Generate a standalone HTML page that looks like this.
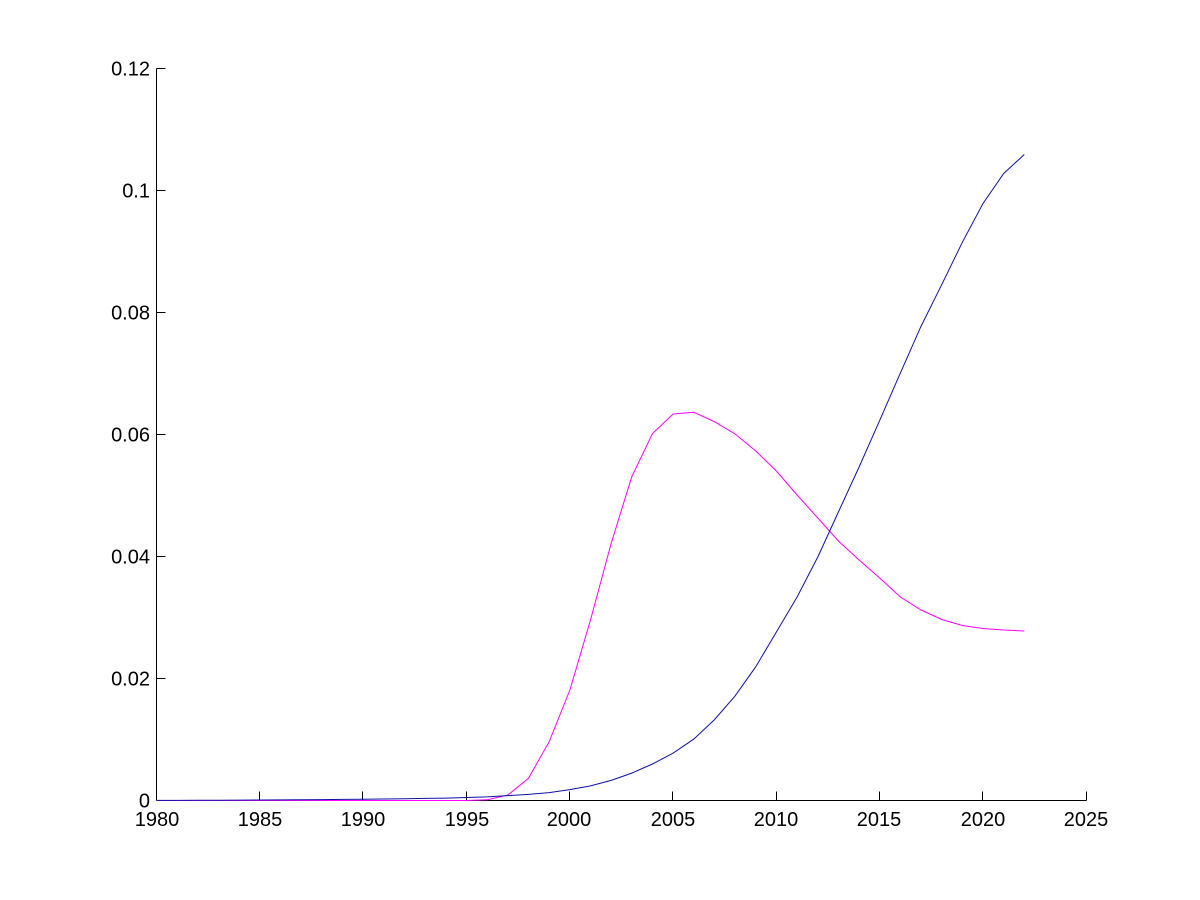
<!DOCTYPE html>
<html>
<head>
<meta charset="utf-8">
<style>
  html, body { margin: 0; padding: 0; background: #ffffff; }
  svg { display: block; }
  text { font-family: "Liberation Sans", Arial, sans-serif; font-size: 20px; fill: #000; }
</style>
</head>
<body>
<svg width="1200" height="900" viewBox="0 0 1200 900" xmlns="http://www.w3.org/2000/svg">
  <rect x="0" y="0" width="1200" height="900" fill="#ffffff"/>

  <!-- axes -->
  <g stroke="#000" stroke-width="1" fill="none" shape-rendering="crispEdges">
    <line x1="156.5" y1="68.5" x2="156.5" y2="800.5"/>
    <line x1="156.5" y1="800.5" x2="1086.5" y2="800.5"/>
    <!-- y ticks -->
    <line x1="156.5" y1="68.5" x2="165.5" y2="68.5"/>
    <line x1="156.5" y1="190.5" x2="165.5" y2="190.5"/>
    <line x1="156.5" y1="312.5" x2="165.5" y2="312.5"/>
    <line x1="156.5" y1="434.5" x2="165.5" y2="434.5"/>
    <line x1="156.5" y1="556.5" x2="165.5" y2="556.5"/>
    <line x1="156.5" y1="678.5" x2="165.5" y2="678.5"/>
    <!-- x ticks -->
    <line x1="259.5" y1="800.5" x2="259.5" y2="791.5"/>
    <line x1="362.5" y1="800.5" x2="362.5" y2="791.5"/>
    <line x1="466.5" y1="800.5" x2="466.5" y2="791.5"/>
    <line x1="569.5" y1="800.5" x2="569.5" y2="791.5"/>
    <line x1="672.5" y1="800.5" x2="672.5" y2="791.5"/>
    <line x1="776.5" y1="800.5" x2="776.5" y2="791.5"/>
    <line x1="879.5" y1="800.5" x2="879.5" y2="791.5"/>
    <line x1="982.5" y1="800.5" x2="982.5" y2="791.5"/>
    <line x1="1086.5" y1="800.5" x2="1086.5" y2="791.5"/>
  </g>

  <!-- y tick labels -->
  <g text-anchor="end">
    <text x="150" y="75.5">0.12</text>
    <text x="150" y="197.5">0.1</text>
    <text x="150" y="319.5">0.08</text>
    <text x="150" y="441.5">0.06</text>
    <text x="150" y="563.5">0.04</text>
    <text x="150" y="685.5">0.02</text>
    <text x="150" y="807.5">0</text>
  </g>

  <!-- x tick labels -->
  <g text-anchor="middle">
    <text x="157" y="826">1980</text>
    <text x="260" y="826">1985</text>
    <text x="363" y="826">1990</text>
    <text x="467" y="826">1995</text>
    <text x="569" y="826">2000</text>
    <text x="673" y="826">2005</text>
    <text x="776" y="826">2010</text>
    <text x="879" y="826">2015</text>
    <text x="983" y="826">2020</text>
    <text x="1086" y="826">2025</text>
  </g>

  <!-- magenta series -->
  <polyline fill="none" stroke="#ff00ff" stroke-width="1"
    points="156.7,800.5 177.4,800.5 198.0,800.5 218.7,800.5 239.3,800.5 260.0,800.5 280.6,800.5 301.3,800.5 322.0,800.5 342.6,800.5 363.3,800.5 383.9,800.5 404.6,800.5 425.3,800.5 445.9,800.5 466.6,800.5 487.2,799.8 507.9,795 528.5,778.3 549.2,741.7 569.9,690 590.5,620 611.2,543.3 631.8,476.7 652.5,433.5 673.2,414 693.8,412.3 714.5,421.7 735.1,434 755.8,451 776.4,471 797.1,495 817.8,518 838.4,541 859.1,560 879.7,578 900.4,597 921.1,610 941.7,619.5 962.4,625.5 983.0,628.5 1003.7,630 1024.3,631"/>

  <!-- blue series -->
  <polyline fill="none" stroke="#1010a8" stroke-width="1"
    points="156.7,800.4 177.4,800.4 198.0,800.3 218.7,800.2 239.3,800.1 260.0,800.0 280.6,799.9 301.3,799.8 322.0,799.6 342.6,799.4 363.3,799.2 383.9,799.0 404.6,798.7 425.3,798.4 445.9,798.1 466.6,797.5 487.2,796.9 507.9,795.6 528.5,794.4 549.2,792.6 569.9,789.6 590.5,785.9 611.2,780.4 631.8,773.1 652.5,764.0 673.2,753.1 693.8,739.1 714.5,719.6 735.1,695.9 755.8,666.7 776.4,632 797.1,597 817.8,557 838.4,512 859.1,467 879.7,420.4 900.4,372.9 921.1,326.1 941.7,284.7 962.4,242.2 983.0,203.5 1003.7,173.5 1024.3,154.5"/>
</svg>
</body>
</html>
